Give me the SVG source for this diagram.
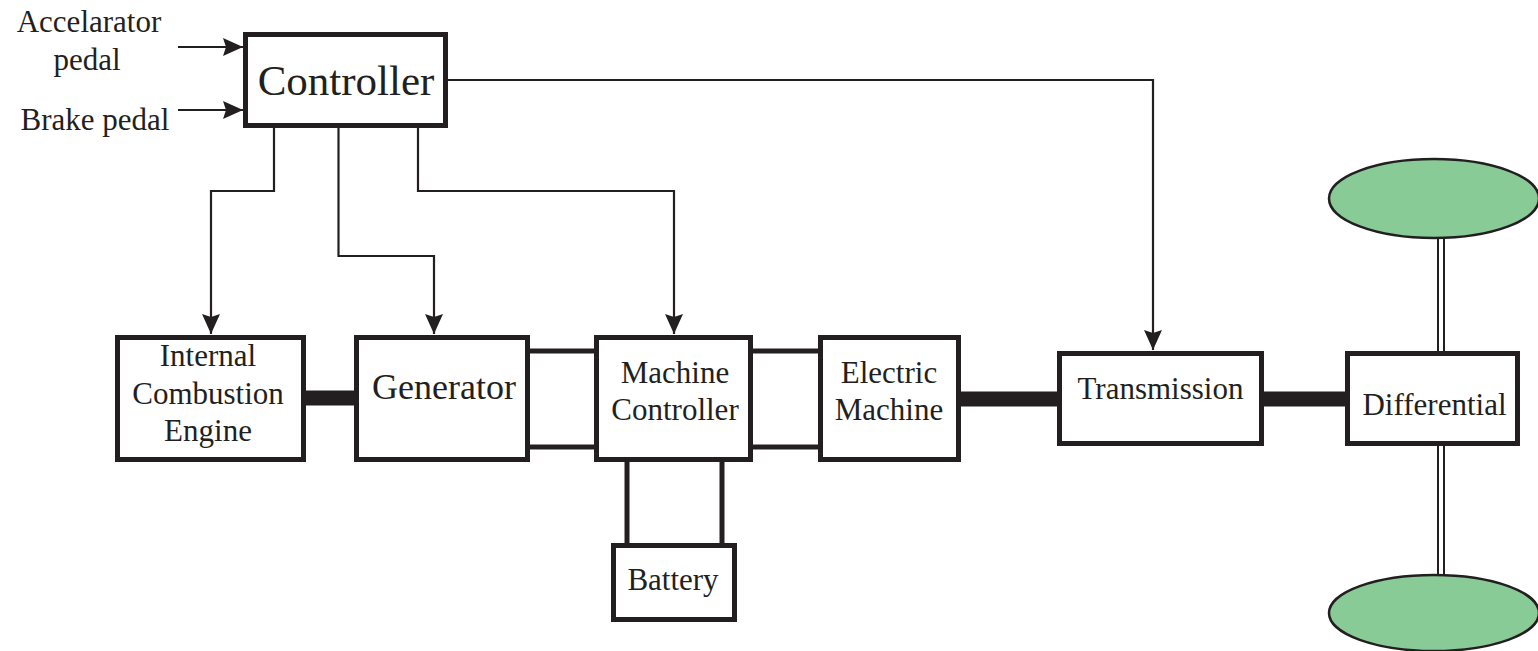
<svg xmlns="http://www.w3.org/2000/svg" width="1538" height="651" viewBox="0 0 1538 651">
<style>
.box{fill:#fff;stroke:#231F20;stroke-width:5}
.t{font-family:"Liberation Serif","Times New Roman",serif;fill:#231F20;text-anchor:middle;font-size:31px}
.w{fill:none;stroke:#231F20;stroke-width:2.2}
.bus{fill:none;stroke:#231F20;stroke-width:5}
.shaft{fill:none;stroke:#231F20;stroke-width:15}
.axle{fill:none;stroke:#231F20;stroke-width:2}
.wheel{fill:#88CB96;stroke:#231F20;stroke-width:2.5}
</style>
<defs>
<marker id="ah" viewBox="0 0 20 18" refX="20" refY="9" markerWidth="20" markerHeight="18" markerUnits="userSpaceOnUse" orient="auto">
<path d="M0,0 L20,9 L0,18 L3,9 z" fill="#231F20"/>
</marker>
</defs>
<rect width="1538" height="651" fill="#fff"/>
<g id="connectors">
<line class="w" x1="178" y1="47" x2="243" y2="47" marker-end="url(#ah)"/>
<line class="w" x1="178" y1="110" x2="243" y2="110" marker-end="url(#ah)"/>
<polyline class="w" points="274,127 274,191 211,191 211,334" marker-end="url(#ah)"/>
<polyline class="w" points="338.5,127 338.5,256 434,256 434,334" marker-end="url(#ah)"/>
<polyline class="w" points="418,127 418,191 674,191 674,334" marker-end="url(#ah)"/>
<polyline class="w" points="448,80 1153,80 1153,350" marker-end="url(#ah)"/>
<line class="shaft" x1="305" y1="398" x2="355" y2="398"/>
<line class="bus" x1="529" y1="351" x2="595" y2="351"/>
<line class="bus" x1="529" y1="447" x2="595" y2="447"/>
<line class="bus" x1="752" y1="351" x2="819" y2="351"/>
<line class="bus" x1="752" y1="447" x2="819" y2="447"/>
<line class="bus" x1="627" y1="461" x2="627" y2="544"/>
<line class="bus" x1="722" y1="461" x2="722" y2="544"/>
<line class="shaft" x1="960" y1="399" x2="1058" y2="399"/>
<line class="shaft" x1="1263" y1="399" x2="1346" y2="399"/>
<line class="axle" x1="1438" y1="237" x2="1438" y2="352"/>
<line class="axle" x1="1444" y1="237" x2="1444" y2="352"/>
<line class="axle" x1="1438" y1="445" x2="1438" y2="576"/>
<line class="axle" x1="1444" y1="445" x2="1444" y2="576"/>
</g>
<g id="inputs">
<text class="t" x="89" y="32">Accelarator</text>
<text class="t" x="87" y="70">pedal</text>
<text class="t" x="95" y="130">Brake pedal</text>
</g>
<g id="controller">
<rect class="box" x="245.5" y="34.5" width="200" height="91"/>
<text class="t" x="346" y="95" style="font-size:43px">Controller</text>
</g>
<g id="ice">
<rect class="box" x="117.5" y="337.5" width="186" height="122"/>
<text class="t" x="208" y="366">Internal</text>
<text class="t" x="208" y="404">Combustion</text>
<text class="t" x="208" y="441">Engine</text>
</g>
<g id="generator">
<rect class="box" x="356.5" y="337.5" width="171" height="122"/>
<text class="t" x="444" y="399" style="font-size:36px">Generator</text>
</g>
<g id="machine-controller">
<rect class="box" x="596.5" y="337.5" width="154" height="122"/>
<text class="t" x="675" y="383">Machine</text>
<text class="t" x="675" y="420">Controller</text>
</g>
<g id="electric-machine">
<rect class="box" x="820.5" y="337.5" width="138" height="122"/>
<text class="t" x="889" y="383">Electric</text>
<text class="t" x="889" y="420">Machine</text>
</g>
<g id="battery">
<rect class="box" x="613.5" y="545.5" width="121" height="74"/>
<text class="t" x="673" y="590">Battery</text>
</g>
<g id="transmission">
<rect class="box" x="1059.5" y="353.5" width="202" height="90"/>
<text class="t" x="1160.5" y="399">Transmission</text>
</g>
<g id="differential">
<rect class="box" x="1347.5" y="353.5" width="170" height="90"/>
<text class="t" x="1434.5" y="415">Differential</text>
</g>
<g id="wheel-top">
<ellipse class="wheel" cx="1434" cy="198.5" rx="105" ry="39.5"/>
</g>
<g id="wheel-bottom">
<ellipse class="wheel" cx="1434" cy="613" rx="105" ry="38"/>
</g>
</svg>
